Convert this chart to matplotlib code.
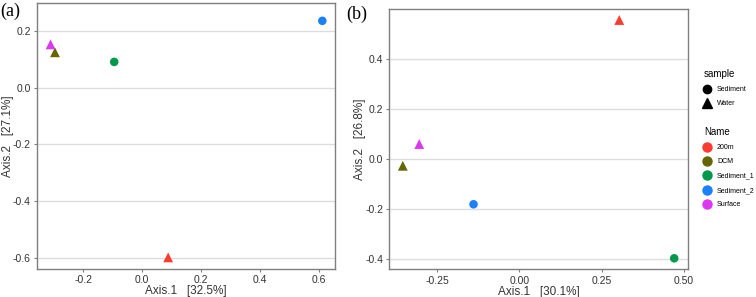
#!/usr/bin/env python3
"""PCoA ordination of water and sediment samples, two panels."""

import matplotlib

matplotlib.use("Agg")
import matplotlib.pyplot as plt
from matplotlib.lines import Line2D

plt.rcParams["font.family"] = ["Liberation Sans", "DejaVu Sans"]

NAMES = ["200m", "DCM", "Sediment_1", "Sediment_2", "Surface"]
SAMPLE = ["Water", "Water", "Sediment", "Sediment", "Water"]
COLORS = {
    "200m": "#ff3b30",
    "DCM": "#666600",
    "Sediment_1": "#00994a",
    "Sediment_2": "#1a80ff",
    "Surface": "#dd38f0",
}
SHAPES = {"Sediment": "o", "Water": "^"}

# panel (a)
A_X = [0.088, -0.296, -0.095, 0.611, -0.311]
A_Y = [-0.599, 0.125, 0.091, 0.236, 0.153]
# panel (b)
B_X = [0.304, -0.354, 0.471, -0.139, -0.304]
B_Y = [0.556, -0.027, -0.397, -0.181, 0.060]

A_XTICKS = [-0.2, 0.0, 0.2, 0.4, 0.6]
A_YTICKS = [-0.6, -0.4, -0.2, 0.0, 0.2]
B_XTICKS = [-0.25, 0.0, 0.25, 0.50]
B_YTICKS = [-0.4, -0.2, 0.0, 0.2, 0.4]

W, H = 756, 297
fig = plt.figure(figsize=(W / 100, H / 100), dpi=100)

GRAY = "#7f7f7f"
TXT = "#333333"


def style(ax, xt, yt, xfmt, yfmt, xlabel, ylabel):
    ax.set_xticks(xt)
    ax.set_yticks(yt)
    ax.set_xticklabels([xfmt.format(v) for v in xt])
    ax.set_yticklabels([yfmt.format(v) for v in yt])
    ax.tick_params(colors=GRAY, labelcolor=TXT, labelsize=7.5, length=2.5, width=0.8, pad=2)
    for s in ax.spines.values():
        s.set_color(GRAY)
        s.set_linewidth(1.0)
    ax.grid(axis="y", color="#dddddd", linewidth=1.0)
    ax.set_axisbelow(True)
    ax.set_xlabel(xlabel, fontsize=8.5, color=TXT, labelpad=0)
    ax.set_ylabel(ylabel, fontsize=8.5, color=TXT)
    ax.yaxis.set_label_coords(-0.078, 0.5)


def draw(ax, xs, ys):
    for name, smp, x, y in zip(NAMES, SAMPLE, xs, ys):
        ax.scatter(x, y, marker=SHAPES[smp], s=50 if smp == "Water" else 38,
                   color=COLORS[name], edgecolors="none", zorder=3)


ax1 = fig.add_axes([37 / W, 1 - 269 / H, 298 / W, 266 / H])
draw(ax1, A_X, A_Y)
ax1.set_xlim(-0.357, 0.654)
ax1.set_ylim(-0.64, 0.299)
style(ax1, A_XTICKS, A_YTICKS, "{:.1f}", "{:.1f}", "Axis.1   [32.5%]", "Axis.2   [27.1%]")

ax2 = fig.add_axes([389.3 / W, 1 - 269.3 / H, 298.4 / W, 260.3 / H])
draw(ax2, B_X, B_Y)
ax2.set_xlim(-0.395, 0.512)
ax2.set_ylim(-0.441, 0.60)
style(ax2, B_XTICKS, B_YTICKS, "{:.2f}", "{:.1f}", "Axis.1   [30.1%]", "Axis.2   [26.8%]")

fig.text(0 / W, 1 - 11 / H, "(a)", fontsize=13, family="Liberation Serif", va="center", ha="left")
fig.text(346 / W, 1 - 14 / H, "(b)", fontsize=13, family="Liberation Serif", va="center", ha="left")

# legends
shape_handles = [Line2D([], [], marker=SHAPES[k], color="black", linestyle="none",
                        markersize=7 if k == "Water" else 6) for k in ["Sediment", "Water"]]
leg1 = fig.legend(shape_handles, ["Sediment", "Water"], title="sample",
                  loc="upper left", bbox_to_anchor=(699 / W, 1 - 64 / H),
                  bbox_transform=fig.transFigure, frameon=False, fontsize=5,
                  title_fontsize=7, alignment="left", handlelength=1.0,
                  handletextpad=0.9, labelspacing=1.05, borderpad=0.2)

name_handles = [Line2D([], [], marker="o", color=COLORS[n], linestyle="none", markersize=6.5)
                for n in NAMES]
leg2 = fig.legend(name_handles, NAMES, title="Name",
                  loc="upper left", bbox_to_anchor=(699 / W, 1 - 122 / H),
                  bbox_transform=fig.transFigure, frameon=False, fontsize=5,
                  title_fontsize=7, alignment="left", handlelength=1.0,
                  handletextpad=0.9, labelspacing=1.05, borderpad=0.2)

fig.savefig("out.png", dpi=100)
